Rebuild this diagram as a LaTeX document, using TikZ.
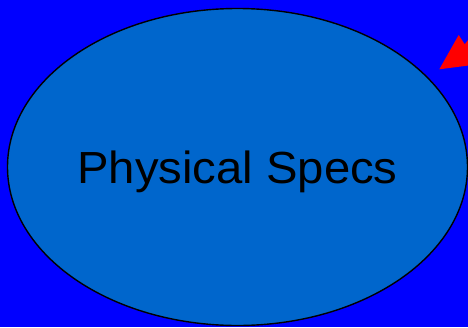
\documentclass[tikz,border=0pt]{standalone}
\usepackage{fontspec}
\setmainfont{Liberation Sans}
\newfontfamily\specfont[FakeStretch=1.05]{Liberation Sans}
\usetikzlibrary{shapes.geometric}

\definecolor{bgblue}{HTML}{0000FF}
\definecolor{specblue}{HTML}{0066CC}

\begin{document}
\begin{tikzpicture}[x=1pt, y=-1pt]
  % --- background (fixes the page size) ---
  \fill[bgblue] (0,0) rectangle (468,327);
  \useasboundingbox (0,0) rectangle (468,327);

  % --- the ellipse ---
  \node[ellipse, draw=black, line width=1.4pt, fill=specblue,
        minimum width=460pt, minimum height=317pt, inner sep=0pt,
        text depth=0pt, yshift=-1.5pt,
        font=\specfont\fontsize{45}{50}\selectfont] (specs) at (237.5,165.5) {Physical Specs};

  % --- red arrow head, cut by the right edge ---
  \begin{scope}
  \clip (0,0) rectangle (468,327);
  \fill[red] (439.3,69.3) -- (458.7,35) -- (464.7,44.3) -- (480,25)
    -- (480,64) -- cycle;
  \end{scope}
\end{tikzpicture}
\end{document}
